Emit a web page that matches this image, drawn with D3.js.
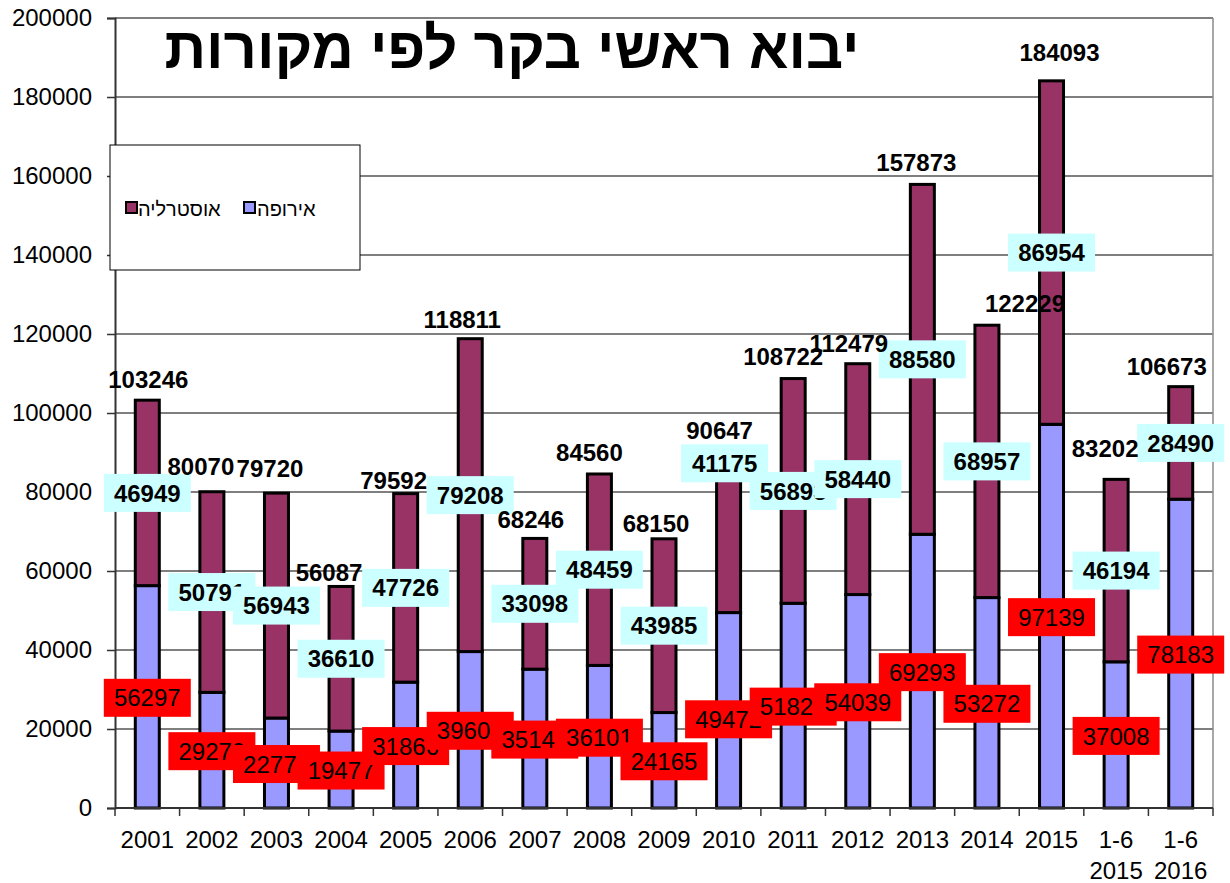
<!DOCTYPE html>
<html><head><meta charset="utf-8">
<script src="https://cdn.jsdelivr.net/npm/d3@7"></script>
<style>
body{margin:0;background:#fff}
text{font-family:"Liberation Sans",Arial,sans-serif}
</style>
</head><body>
<svg id="chart" width="1230" height="883"></svg>
<script>
// ---------- data ----------
const categories = ["2001","2002","2003","2004","2005","2006","2007","2008","2009","2010","2011","2012","2013","2014","2015","1-6 2015","1-6 2016"];
const europe    = [56297,29279,22777,19477,31866,39603,35148,36101,24165,49472,51829,54039,69293,53272,97139,37008,78183];
const australia = [46949,50791,56943,36610,47726,79208,33098,48459,43985,41175,56893,58440,88580,68957,86954,46194,28490];
const totals    = [103246,80070,79720,56087,79592,118811,68246,84560,68150,90647,108722,112479,157873,122229,184093,83202,106673];
const yTicks = [0,20000,40000,60000,80000,100000,120000,140000,160000,180000,200000];
const titleText = "יבוא ראשי בקר לפי מקורות";
const legendAustralia = "אוסטרליה";
const legendEurope = "אירופה";

// ---------- layout (label placement, px) ----------
const totalLabelOffsets = [[1,-21],[-11,-25],[-6.5,-25],[-12,-14.5],[-12,-13],[-8,-19],[-4,-19],[-10,-22],[-8,-15],[-9,-20],[-10,-22],[-9,-20],[-6,-22],[38,-22],[8,-28],[-11,-31],[-14,-20]];
const europeLabelOffsets = categories.map(()=>[0,1]);
europeLabelOffsets[9] = [0,9];
const australiaLabelOffsets = categories.map(()=>[0,0]);
australiaLabelOffsets[9] = [-4,-68];

const colEurope = "#9999FF", colAustralia = "#993366";
const pLeft = 115, pRight = 1213, pTop = 18, pBottom = 808;

const svg = d3.select("#chart");
const x = d3.scaleBand().domain(categories).range([pLeft, pRight]).padding(0);
const y = d3.scaleLinear().domain([0, 200000]).range([pBottom, pTop]);
const barW = 24;

// gridlines
svg.append("g").selectAll("line").data(yTicks.filter(d=>d>0)).join("line")
  .attr("x1", pLeft).attr("x2", pRight)
  .attr("y1", d=>y(d)).attr("y2", d=>y(d))
  .attr("stroke", "#555").attr("stroke-width", 1.3);
// right border
svg.append("line").attr("x1", pRight).attr("x2", pRight).attr("y1", pTop).attr("y2", pBottom)
  .attr("stroke", "#8a8a8a").attr("stroke-width", 1.5);

// y axis
const yAxis = svg.append("g").attr("transform", `translate(${pLeft},0)`)
  .call(d3.axisLeft(y).tickValues(yTicks).tickSize(8).tickPadding(15).tickFormat(d3.format("d")));
yAxis.select(".domain").attr("stroke", "#333").attr("stroke-width", 2);
yAxis.selectAll(".tick line").attr("stroke", "#333").attr("stroke-width", 1.5);
yAxis.selectAll(".tick text").attr("font-size", 24).attr("fill", "#000")
  .attr("font-family", "'Liberation Sans', Arial, sans-serif");

// bars
const bars = svg.append("g");
categories.forEach((c, i) => {
  const cx = x(c) + x.bandwidth() / 2;
  bars.append("rect").attr("x", cx - barW/2).attr("width", barW)
    .attr("y", y(europe[i])).attr("height", y(0) - y(europe[i]))
    .attr("fill", colEurope).attr("stroke", "#000").attr("stroke-width", 3);
  bars.append("rect").attr("x", cx - barW/2).attr("width", barW)
    .attr("y", y(europe[i] + australia[i])).attr("height", y(europe[i]) - y(europe[i] + australia[i]))
    .attr("fill", colAustralia).attr("stroke", "#000").attr("stroke-width", 3);
});

// x axis
svg.append("line").attr("x1", pLeft).attr("x2", pRight).attr("y1", pBottom).attr("y2", pBottom)
  .attr("stroke", "#333").attr("stroke-width", 2);
const xb = categories.map(c => x(c)).concat([pRight]);
svg.append("g").selectAll("line").data(xb).join("line")
  .attr("x1", d=>d).attr("x2", d=>d).attr("y1", pBottom).attr("y2", pBottom + 8)
  .attr("stroke", "#333").attr("stroke-width", 1.5);
const xl = svg.append("g").selectAll("text").data(categories).join("text")
  .attr("text-anchor", "middle").attr("font-size", 24).attr("fill", "#000");
xl.each(function(c){
  const parts = c.split(" ");
  const t = d3.select(this);
  parts.forEach((p, k) => {
    t.append("tspan").attr("x", x(c) + x.bandwidth()/2).attr("y", 848 + k*31).text(p);
  });
});

// labels
const lbl = svg.append("g");
function boxLabel(cx, cy, val, fill, bold) {
  lbl.append("rect").attr("x", cx - 43.5).attr("y", cy - 19).attr("width", 87).attr("height", 38).attr("fill", fill);
  lbl.append("text").attr("x", cx).attr("y", cy + 8.6).attr("text-anchor", "middle")
    .attr("font-size", 24).attr("font-weight", bold ? "bold" : "normal").attr("fill", "#000").text(val);
}
categories.forEach((c, i) => {
  const cx = x(c) + x.bandwidth()/2;
  const mid = (y(0) + y(europe[i])) / 2;
  boxLabel(cx + europeLabelOffsets[i][0], mid + europeLabelOffsets[i][1], europe[i], "#FF0000", false);
});
categories.forEach((c, i) => {
  const cx = x(c) + x.bandwidth()/2;
  const mid = (y(europe[i]) + y(europe[i] + australia[i])) / 2;
  boxLabel(cx + australiaLabelOffsets[i][0], mid + australiaLabelOffsets[i][1], australia[i], "#CCFFFF", true);
});
categories.forEach((c, i) => {
  const cx = x(c) + x.bandwidth()/2;
  lbl.append("text").attr("x", cx + totalLabelOffsets[i][0]).attr("y", y(totals[i]) + totalLabelOffsets[i][1] + 8.6)
    .attr("text-anchor", "middle").attr("font-size", 24).attr("font-weight", "bold").attr("fill", "#000").text(totals[i]);
});

// legend
const lg = svg.append("g");
lg.append("rect").attr("x", 110).attr("y", 145).attr("width", 250).attr("height", 125)
  .attr("fill", "#fff").attr("stroke", "#000").attr("stroke-width", 1);
lg.append("rect").attr("x", 126).attr("y", 202).attr("width", 11).attr("height", 11)
  .attr("fill", colAustralia).attr("stroke", "#000").attr("stroke-width", 2);
lg.append("text").attr("x", 138).attr("y", 216).attr("font-size", 20).attr("fill", "#000")
  .text(legendAustralia);
lg.append("rect").attr("x", 244).attr("y", 202).attr("width", 11).attr("height", 11)
  .attr("fill", colEurope).attr("stroke", "#000").attr("stroke-width", 2);
lg.append("text").attr("x", 257).attr("y", 216).attr("font-size", 20).attr("fill", "#000")
  .text(legendEurope);

// title
svg.append("text").attr("x", 512).attr("y", 68).attr("text-anchor", "middle")
  .attr("font-size", 58).attr("font-weight", "bold").attr("fill", "#000").text(titleText);
</script>
</body></html>
